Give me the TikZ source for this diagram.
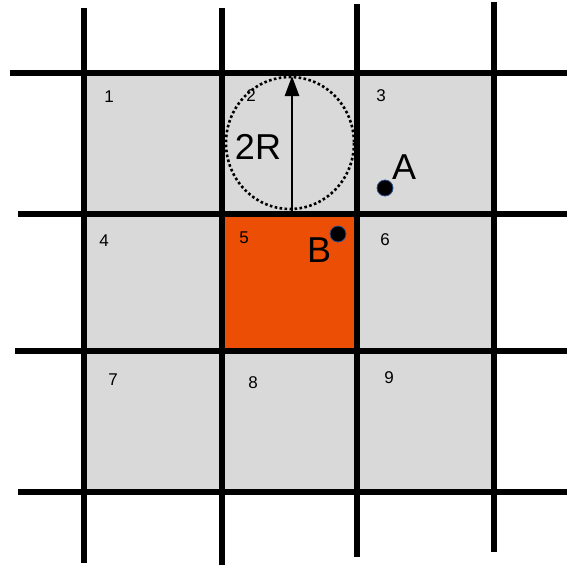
\documentclass[tikz,border=0pt]{standalone}
\usepackage{fontspec}
\setmainfont{Liberation Sans}
\usetikzlibrary{arrows.meta}
\definecolor{cellgray}{HTML}{D9D9D9}
\definecolor{cellorange}{HTML}{EC4E05}
\definecolor{dotedge}{HTML}{2F528F}
\tikzset{
  gridline/.style={line width=6pt, black},
  num/.style={font=\fontsize{17}{17}\selectfont, inner sep=0pt},
  big/.style={font=\fontsize{36}{36}\selectfont, inner sep=0pt},
  pt/.style={circle, fill=black, draw=dotedge, line width=0.8pt, minimum size=16pt, inner sep=0pt}
}
\begin{document}
\begin{tikzpicture}[x=1pt,y=-1pt]
\useasboundingbox (0,0) rectangle (569,565);
% fills
\fill[cellgray] (84,73) rectangle (494,492);
\fill[cellorange] (222,214) rectangle (357,351);
% circle and arrow
\draw[line width=2.6pt, dash pattern=on 2.6pt off 2.4pt] (290,143) ellipse [x radius=64, y radius=66];
\coordinate (arrS) at (292,211);
\coordinate (arrE) at (292,76);
\draw[line width=2.6pt, -{Triangle[length=20pt,width=14pt]}] (arrS) -- (arrE);
% grid lines
\draw[gridline] (84,8) -- (84,563);
\draw[gridline] (222,8) -- (222,565);
\draw[gridline] (357,4) -- (357,557);
\draw[gridline] (494,2) -- (494,552);
\draw[gridline] (10,73) -- (567,73);
\draw[gridline] (18,214) -- (567,214);
\draw[gridline] (15,351) -- (567,351);
\draw[gridline] (18,492) -- (567,492);
% numbers
\node[num] (n1) at (109,97) {1};
\node[num] (n2) at (251,96) {2};
\node[num] (n3) at (381,96) {3};
\node[num] (n4) at (104,241) {4};
\node[num] (n5) at (244,238) {5};
\node[num] (n6) at (385,240) {6};
\node[num] (n7) at (113,380) {7};
\node[num] (n8) at (253,383) {8};
\node[num] (n9) at (389,378) {9};
% labels
\node[big] (r2) at (258,147) {2R};
\node[pt] (pA) at (385,188) {};
\node[big] (lA) at (404,167) {A};
\node[pt] (pB) at (338,234) {};
\node[big] (lB) at (319,250) {B};
\end{tikzpicture}
\end{document}
